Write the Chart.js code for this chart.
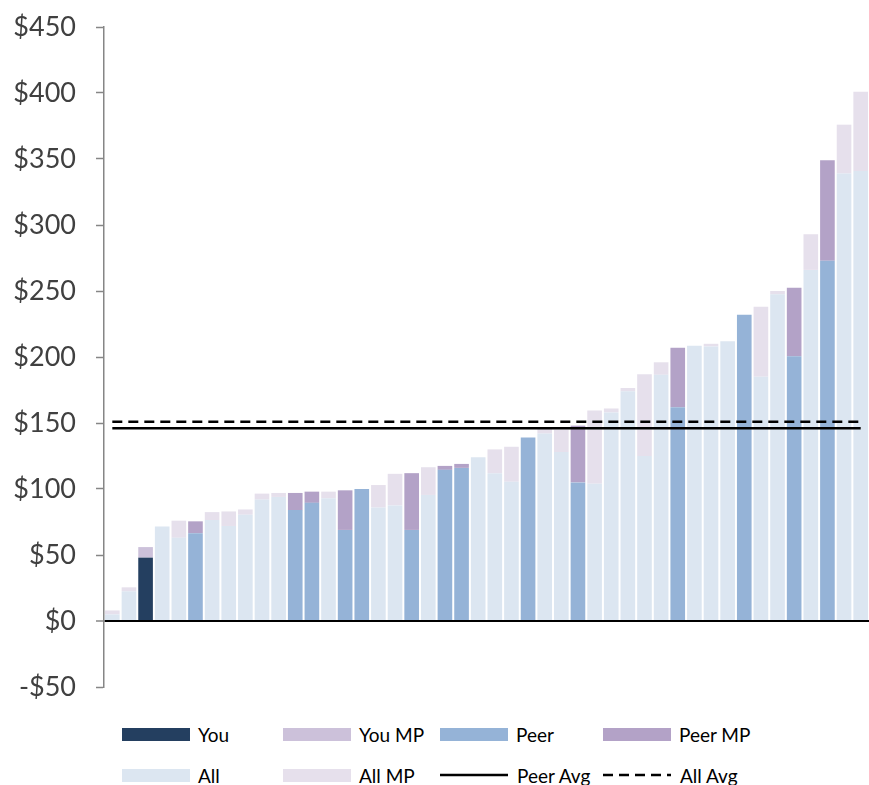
<!DOCTYPE html>
<html>
<head>
<meta charset="utf-8">
<script src="https://cdn.jsdelivr.net/npm/chart.js@4"></script>
<style>
  body { margin: 0; background: #fff; font-family: Lato, sans-serif; }
  #wrap { position: relative; width: 869px; height: 785px; overflow: hidden; }
  #box { position: absolute; left: 0; top: 0; width: 869px; height: 706px; }
  .item { position: absolute; height: 20px; display: flex; align-items: center; font-size: 19px; color: #000; }
  .sw { width: 68px; height: 13px; margin-right: 8px; }
  .item svg { margin-right: 9px; }
</style>
</head>
<body>
<div id="wrap">
  <div id="box"><canvas id="chart"></canvas></div>
  <div id="legend"></div>
</div>
<script>
// categories (one per respondent, anonymous)
const categories = [
  'r1','r2','r3','r4','r5','r6','r7','r8','r9','r10',
  'r11','r12','r13','r14','r15','r16','r17','r18','r19','r20',
  'r21','r22','r23','r24','r25','r26','r27','r28','r29','r30',
  'r31','r32','r33','r34','r35','r36','r37','r38','r39','r40',
  'r41','r42','r43','r44','r45','r46'
];

const youValues = [
  null, null, 48, null, null, null, null, null, null, null,
  null, null, null, null, null, null, null, null, null, null,
  null, null, null, null, null, null, null, null, null, null,
  null, null, null, null, null, null, null, null, null, null,
  null, null, null, null, null, null
];
const youMP = [
  null, null, 8, null, null, null, null, null, null, null,
  null, null, null, null, null, null, null, null, null, null,
  null, null, null, null, null, null, null, null, null, null,
  null, null, null, null, null, null, null, null, null, null,
  null, null, null, null, null, null
];
const peerValues = [
  null, null, null, null, null, 66.5, null, null, null, null,
  null, 84, 89.5, null, 69, 100, null, null, 69, null,
  114.5, 116, null, null, null, 139, null, null, 105, null,
  null, null, null, null, 162, null, null, null, 232, null,
  null, 200.5, null, 273, null, null
];
const peerMP = [
  null, null, null, null, null, 9, null, null, null, null,
  null, 13, 8.5, null, 30, null, null, null, 43, null,
  3, 3, null, null, null, null, null, null, 43, null,
  null, null, null, null, 45, null, null, null, null, null,
  null, 52, null, 76, null, null
];
const allValues = [
  5, 22.5, null, 71.5, 63, null, 76.5, 72, 80.5, 92,
  94, null, null, 93, null, null, 86, 87.5, null, 95.5,
  null, null, 124, 112, 105.5, null, 142, 128, null, 104,
  158, 174, 125, 186.5, null, 208.5, 208, 212, null, 185,
  247.5, null, 266, null, 339, 341
];
const allMP = [
  3, 3, null, null, 13, null, 6, 11, 4, 4.5,
  3, null, null, 5, null, null, 17, 24, null, 21,
  null, null, null, 18, 26.5, null, 3.5, 17, null, 55.5,
  3, 2.5, 62, 9.5, null, null, 2, null, null, 53,
  2.5, null, 27, null, 37, 60
];
const peerAvg = 146;
const allAvg = 151;

const yTicks = { min: -50, max: 450, step: 50 };

const colors = {
  you: '#243F60',
  youMP: '#CCC1DA',
  peer: '#95B3D7',
  peerMP: '#B3A2C7',
  all: '#DCE6F1',
  allMP: '#E6E0EC'
};

const barDs = (label, data, color) => ({
  type: 'bar', label, data, backgroundColor: color,
  stack: 'bars', barPercentage: 0.88, categoryPercentage: 1, order: 2
});
const lineDs = (label, value, dash) => ({
  type: 'line', label, data: categories.map(() => value), stack: label,
  borderColor: '#000', borderWidth: 2.5, borderDash: dash,
  pointRadius: 0, fill: false, order: 1
});

new Chart(document.getElementById('chart'), {
  data: {
    labels: categories,
    datasets: [
      barDs('You', youValues, colors.you),
      barDs('You MP', youMP, colors.youMP),
      barDs('Peer', peerValues, colors.peer),
      barDs('Peer MP', peerMP, colors.peerMP),
      barDs('All', allValues, colors.all),
      barDs('All MP', allMP, colors.allMP),
      lineDs('Peer Avg', peerAvg, []),
      lineDs('All Avg', allAvg, [10, 6])
    ]
  },
  options: {
    responsive: true,
    maintainAspectRatio: false,
    animation: false,
    layout: { padding: { top: 27, right: 0, bottom: 19, left: 0 } },
    plugins: { legend: { display: false }, tooltip: { enabled: false } },
    scales: {
      x: { display: false, stacked: true },
      y: {
        stacked: true,
        min: yTicks.min, max: yTicks.max,
        afterFit: s => {
          // fixed axis width, and no extra room for the end labels
          s.width = 104;
          s.paddingTop = 0;
          s.paddingBottom = 0;
        },
        ticks: {
          stepSize: yTicks.step,
          padding: 20,
          color: '#404040',
          font: { family: 'Lato', size: 27 },
          callback: v => (v < 0 ? '-$' + Math.abs(v) : '$' + v)
        },
        border: { display: true, color: '#868686', width: 1.5 },
        grid: {
          drawOnChartArea: true,
          color: c => (c.tick && c.tick.value === 0 ? '#000' : 'rgba(0,0,0,0)'),
          lineWidth: c => (c.tick && c.tick.value === 0 ? 2 : 1),
          tickColor: '#868686',
          tickWidth: 1.5,
          tickLength: 8
        }
      }
    }
  }
});

// legend, laid out in a 4 x 2 grid like the original
const legendItems = [
  { label: 'You', color: colors.you, x: 122, y: 724 },
  { label: 'You MP', color: colors.youMP, x: 283, y: 724 },
  { label: 'Peer', color: colors.peer, x: 440, y: 724 },
  { label: 'Peer MP', color: colors.peerMP, x: 603, y: 724 },
  { label: 'All', color: colors.all, x: 122, y: 765 },
  { label: 'All MP', color: colors.allMP, x: 283, y: 765 },
  { label: 'Peer Avg', line: 'none', x: 440, y: 765 },
  { label: 'All Avg', line: '10 6', x: 603, y: 765 }
];
const legend = document.getElementById('legend');
legendItems.forEach(it => {
  const el = document.createElement('div');
  el.className = 'item';
  el.style.left = it.x + 'px';
  el.style.top = it.y + 'px';
  if (it.line) {
    el.innerHTML = '<svg width="68" height="6"><line x1="0" y1="3" x2="68" y2="3" stroke="#000" stroke-width="2.5"' +
      (it.line !== 'none' ? ' stroke-dasharray="' + it.line + '"' : '') + '/></svg>';
  } else {
    el.innerHTML = '<span class="sw" style="background:' + it.color + '"></span>';
  }
  el.appendChild(document.createTextNode(it.label));
  legend.appendChild(el);
});
</script>
</body>
</html>
